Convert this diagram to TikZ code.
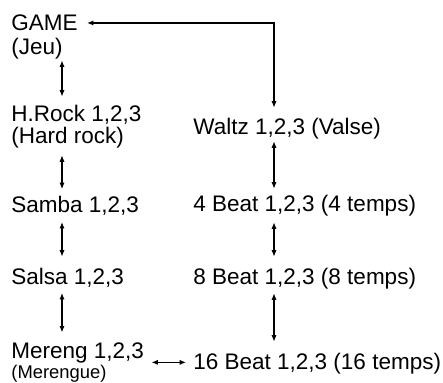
\documentclass[tikz,border=0pt]{standalone}
\usepackage{fontspec}
\setmainfont{Liberation Sans}
\usetikzlibrary{arrows.meta}
\tikzset{
  arr/.style={{Latex[length=3.2pt,width=2.6pt]}-{Latex[length=3.2pt,width=2.6pt]},
    line width=0.55pt, shorten <=2.5pt, shorten >=4.5pt},
  dance/.style={anchor=base west, inner sep=0pt, align=left,
    font=\fontsize{11.25}{10.8}\selectfont},
  sub/.style={font=\fontsize{9.2}{11.25}\selectfont}
}

\begin{document}
\begin{tikzpicture}[x=0.5pt,y=-0.5pt]
  % pixel grid of the reference, y downwards
  % (base of a two-line node = baseline of its last line)
  \useasboundingbox (0,0) rectangle (443,382);
  \coordinate (lc) at (62,0);
  \coordinate (rc) at (274,0);
  % left column
  \node[dance] (game) at (11,30.7) {GAME};
  \node[dance] (jeu) at (11,54) {(Jeu)};
  \node[dance] (hrock) at (11,143.3) {H.Rock 1,2,3\\(Hard rock)};
  \node[dance] (samba) at (11,212.8) {Samba 1,2,3};
  \node[dance] (salsa) at (11,284.3) {Salsa 1,2,3};
  \node[dance] (mereng) at (11,378.5) {Mereng 1,2,3\\[-0.6pt]{\fontsize{9.2}{11.25}\selectfont(Merengue)}};
  % right column
  \node[dance] (waltz) at (193,134.3) {Waltz 1,2,3 (Valse)};
  \node[dance] (beat4) at (193,211.7) {4 Beat 1,2,3 (4 temps)};
  \node[dance] (beat8) at (193,284.3) {8 Beat 1,2,3 (8 temps)};
  \node[dance] (beat16) at (193,369.3) {16 Beat 1,2,3 (16 temps)};
  % links
  \draw[arr, shorten <=4.5pt, shorten >=5pt] (game.east) -| (waltz.north -| rc);
  \draw[arr, shorten <=0.7pt, shorten >=4.2pt] (jeu.south -| lc) -- (hrock.north -| lc);
  \draw[arr, shorten <=3.5pt, shorten >=3.5pt] (hrock.south -| lc) -- (samba.north -| lc);
  \draw[arr, shorten <=3pt, shorten >=5.5pt] (samba.south -| lc) -- (salsa.north -| lc);
  \draw[arr, shorten <=2.7pt, shorten >=4.8pt] (salsa.south -| lc) -- (mereng.north -| lc);
  \draw[arr, shorten <=1pt, shorten >=3.2pt] (waltz.south -| rc) -- (beat4.north -| rc);
  \draw[arr, shorten <=2.8pt, shorten >=5.5pt] (beat4.south -| rc) -- (beat8.north -| rc);
  \draw[arr, shorten <=2pt, shorten >=5.5pt] (beat8.south -| rc) -- (beat16.north -| rc);
  \draw[arr, shorten <=3.6pt, shorten >=3.5pt] (mereng.east) -- (mereng.east -| beat16.west);
\end{tikzpicture}
\end{document}
